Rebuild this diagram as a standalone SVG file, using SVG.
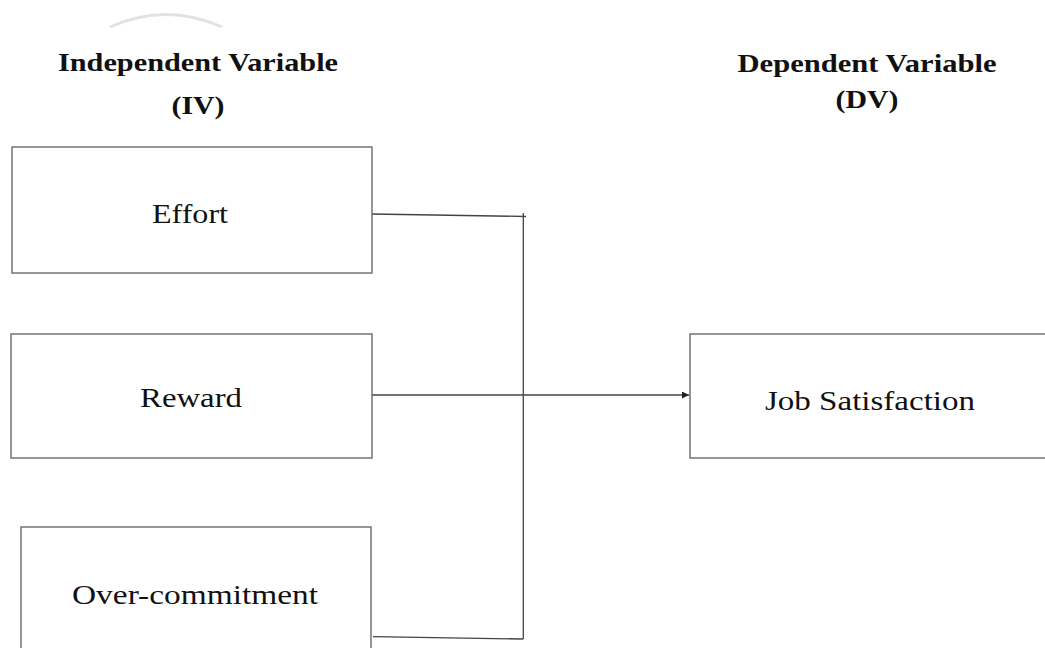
<svg xmlns="http://www.w3.org/2000/svg" width="1045" height="648" viewBox="0 0 1045 648">
  <style>
    .box { fill: #ffffff; stroke: #6a6a6a; stroke-width: 1.4; }
    .title { font-family: "Liberation Serif", "Times New Roman", serif; font-weight: bold; font-size: 25px; fill: #111; text-anchor: middle; }
    .label { font-family: "Liberation Serif", "Times New Roman", serif; font-size: 28px; fill: #111; text-anchor: middle; }
    .conn { fill: none; stroke: #444; stroke-width: 1.3; }
  </style>
  <defs>
    <marker id="arrow" viewBox="0 0 10 10" refX="10" refY="5" markerUnits="userSpaceOnUse" markerWidth="9" markerHeight="7" orient="auto">
      <path d="M0,0 L10,5 L0,10 Z" fill="#222"/>
    </marker>
  </defs>
  <rect width="1045" height="648" fill="#ffffff"/>
  <g id="watermark">
    <path d="M110,27 Q166,2 222,27" fill="none" stroke="#e2e2e2" stroke-width="3"/>
  </g>
  <g id="titles">
    <text class="title" x="198" y="71" textLength="280" lengthAdjust="spacingAndGlyphs">Independent Variable</text>
    <text class="title" x="198" y="114" textLength="53" lengthAdjust="spacingAndGlyphs">(IV)</text>
    <text class="title" x="867" y="72" textLength="259" lengthAdjust="spacingAndGlyphs">Dependent Variable</text>
    <text class="title" x="867" y="108" textLength="63" lengthAdjust="spacingAndGlyphs">(DV)</text>
  </g>
  <g id="connectors">
    <polyline class="conn" points="372,214 526,216.5"/>
    <line class="conn" x1="523.3" y1="213" x2="523.3" y2="639"/>
    <polyline class="conn" points="373,636.7 523.3,639"/>
    <line class="conn" x1="372" y1="395" x2="689" y2="395" marker-end="url(#arrow)"/>
  </g>
  <g id="effort">
    <rect class="box" x="12" y="147" width="360" height="126"/>
    <text class="label" x="190" y="223" textLength="76" lengthAdjust="spacingAndGlyphs">Effort</text>
  </g>
  <g id="reward">
    <rect class="box" x="11" y="334" width="361" height="124"/>
    <text class="label" x="191" y="407" textLength="102" lengthAdjust="spacingAndGlyphs">Reward</text>
  </g>
  <g id="overcommitment">
    <rect class="box" x="21" y="527" width="350" height="140"/>
    <text class="label" x="195" y="604" textLength="246" lengthAdjust="spacingAndGlyphs">Over-commitment</text>
  </g>
  <g id="jobsatisfaction">
    <rect class="box" x="690" y="334" width="370" height="124"/>
    <text class="label" x="870" y="410" textLength="210" lengthAdjust="spacingAndGlyphs">Job Satisfaction</text>
  </g>
</svg>
